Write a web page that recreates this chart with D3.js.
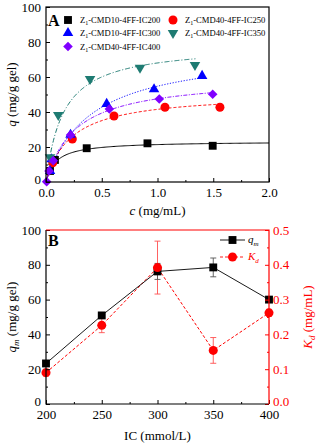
<!DOCTYPE html>
<html><head><meta charset="utf-8">
<script src="https://cdn.jsdelivr.net/npm/d3@7"></script>
<style>
body{margin:0;background:#fff}
text{font-family:"Liberation Serif","Times New Roman",serif}
</style></head>
<body><svg width="320" height="445"></svg>
<script>
// panel A: adsorption isotherms
const seriesKeys = ["IC200", "IC250", "IC300", "IC350", "IC400"];
const seriesLabels = ["CMD10-4FF-IC200", "CMD40-4FF-IC250", "CMD10-4FF-IC300", "CMD40-4FF-IC350", "CMD40-4FF-IC400"];
const cIC200 = [0.036, 0.08, 0.365, 0.91, 1.495];
const qIC200 = [6.3, 12.6, 19.3, 22.1, 20.7];
const cIC250 = [0.06, 0.236, 0.61, 1.067, 1.56];
const qIC250 = [11, 24.6, 37.7, 42.7, 42.7];
const cIC300 = [0.036, 0.05, 0.22, 0.544, 0.969, 1.40];
const qIC300 = [6.3, 13, 27, 44.6, 53, 60.6];
const cIC350 = [0.036, 0.11, 0.395, 0.843, 1.336];
const qIC350 = [14.1, 38.3, 58.9, 65.3, 66.9];
const cIC400 = [0.006, 0.027, 0.065, 0.22, 0.568, 1.016, 1.495];
const qIC400 = [0.2, 6.3, 12.2, 26.9, 41.7, 47.4, 50.1];
const curveEnd = [2.0, 1.56, 1.40, 1.34, 1.495];
const cSeries = [cIC200, cIC250, cIC300, cIC350, cIC400];
const qSeries = [qIC200, qIC250, qIC300, qIC350, qIC400];

// panel B: Langmuir fit parameters
const icLevels = [200, 250, 300, 350, 400];
const qmValues = [23.3, 50.9, 76.2, 78.5, 60];
const qmErr = [1, 1.5, 4.6, 5.4, 1];
const kdValues = [0.09, 0.226, 0.392, 0.154, 0.262];
const kdErr = [0.01, 0.021, 0.076, 0.037, 0.01];

const colors = ["#000000", "#ff0000", "#0000ff", "#1e7b72", "#8000ff"];
const dashes = [null, "3,2", "1.2,1.6", "5,2,1,2", "4,1.5,1,1.5"];

const svg = d3.select("svg");
const left = 46, right = 269;

function marker(g, kind, color, x, y) {
  let d, r = 0;
  if (kind === 0) d = d3.symbol(d3.symbolSquare, 62)();
  else if (kind === 1) d = d3.symbol(d3.symbolCircle, 64)();
  else if (kind === 2) d = d3.symbol(d3.symbolTriangle, 48)();
  else if (kind === 3) { d = d3.symbol(d3.symbolTriangle, 48)(); r = 180; }
  else { d = d3.symbol(d3.symbolSquare, 46)(); r = 45; }
  return g.append("path").attr("d", d).attr("fill", color)
    .attr("transform", `translate(${x},${y}) rotate(${r})`);
}

function inwardAxes(g, xs, ys, xTicks, xMinor, yTicks, yMinor, xFmt, yFmt, h) {
  g.append("g").attr("transform", `translate(0,${h})`)
    .call(d3.axisBottom(xs).tickValues(xMinor).tickSize(-2).tickFormat("").tickSizeOuter(0));
  g.append("g").attr("transform", `translate(0,${h})`)
    .call(d3.axisBottom(xs).tickValues(xTicks).tickSize(-4).tickPadding(6).tickFormat(xFmt).tickSizeOuter(0));
  g.append("g").attr("transform", `translate(${left},0)`)
    .call(d3.axisLeft(ys).tickValues(yMinor).tickSize(-2).tickFormat("").tickSizeOuter(0));
  const ya = g.append("g").attr("transform", `translate(${left},0)`)
    .call(d3.axisLeft(ys).tickValues(yTicks).tickSize(-4).tickPadding(5).tickFormat(yFmt).tickSizeOuter(0));
  ya.selectAll(".tick text").filter(d => d === 0).attr("dy", "0.1em");
  g.selectAll(".tick text").attr("font-size", 13).attr("font-family", "Liberation Serif").attr("fill", "#000");
  g.selectAll(".domain").remove();
}

// ---------- panel A ----------
const topA = 7, botA = 182;
const xA = d3.scaleLinear().domain([0, 2]).range([left, right]);
const yA = d3.scaleLinear().domain([0, 100]).range([botA, topA]);
const gA = svg.append("g");

seriesKeys.forEach((k, i) => {
  // Langmuir fit with parameters from panel B
  const pts = d3.range(0, 201).map(j => {
    const c = curveEnd[i] * j / 200;
    return [c, qmValues[i] * c / (kdValues[i] + c)];
  });
  gA.append("path").datum(pts)
    .attr("fill", "none").attr("stroke", colors[i]).attr("stroke-width", 1)
    .attr("stroke-dasharray", dashes[i])
    .attr("d", d3.line().x(d => xA(d[0])).y(d => yA(d[1])));
});
seriesKeys.forEach((k, i) => {
  cSeries[i].forEach((c, j) => marker(gA, i, colors[i], xA(c), yA(qSeries[i][j])));
});

inwardAxes(gA, xA, yA, d3.range(0, 2.01, 0.5), d3.range(0.25, 2, 0.5),
  d3.range(0, 101, 20), d3.range(10, 100, 20), d3.format(".1f"), d3.format("d"), botA);
gA.append("rect").attr("x", left).attr("y", topA).attr("width", right - left).attr("height", botA - topA)
  .attr("fill", "none").attr("stroke", "#000").attr("stroke-width", 1.2);

gA.append("text").attr("x", 48).attr("y", 26).attr("font-family", "Liberation Sans")
  .attr("font-weight", "bold").attr("font-size", 16).text("A");

const legPos = [[68, 20], [173, 20], [68, 33], [173, 33], [68, 46.5]];
seriesKeys.forEach((k, i) => {
  marker(gA, i, colors[i], legPos[i][0], legPos[i][1]);
  const t = gA.append("text").attr("x", legPos[i][0] + 12).attr("y", legPos[i][1] + 3)
    .attr("font-size", 8.6).attr("fill", "#000");
  t.append("tspan").text("Z");
  t.append("tspan").attr("font-size", 6).attr("dy", 2).text("1");
  t.append("tspan").attr("dy", -2).text("-" + seriesLabels[i]);
});

const tA = gA.append("text").attr("x", (left + right) / 2).attr("y", 215)
  .attr("text-anchor", "middle").attr("font-size", 13);
tA.append("tspan").attr("font-style", "italic").text("c");
tA.append("tspan").text(" (mg/mL)");
const tAy = gA.append("text").attr("transform", `translate(16,${(topA + botA) / 2}) rotate(-90)`)
  .attr("text-anchor", "middle").attr("font-size", 13);
tAy.append("tspan").attr("font-style", "italic").text("q");
tAy.append("tspan").text(" (mg/g gel)");

// ---------- panel B ----------
const topB = 230, botB = 404;
const xB = d3.scaleLinear().domain([200, 400]).range([left, right]);
const yB = d3.scaleLinear().domain([0, 100]).range([botB, topB]);
const yK = d3.scaleLinear().domain([0, 0.5]).range([botB, topB]);
const gB = svg.append("g");

// K_d series (red, dashed)
gB.append("path").datum(icLevels)
  .attr("fill", "none").attr("stroke", "#ff0000").attr("stroke-width", 1).attr("stroke-dasharray", "3,2")
  .attr("d", d3.line().x(d => xB(d)).y((d, i) => yK(kdValues[i])));
icLevels.forEach((ic, i) => {
  const x = xB(ic), y1 = yK(kdValues[i] - kdErr[i]), y2 = yK(kdValues[i] + kdErr[i]);
  gB.append("path").attr("d", `M${x},${y1}V${y2}M${x - 3},${y1}H${x + 3}M${x - 3},${y2}H${x + 3}`)
    .attr("stroke", "#ff5050").attr("stroke-width", 0.9).attr("fill", "none");
});

// q_m series (black, solid)
gB.append("path").datum(icLevels)
  .attr("fill", "none").attr("stroke", "#000").attr("stroke-width", 0.9)
  .attr("d", d3.line().x(d => xB(d)).y((d, i) => yB(qmValues[i])));
icLevels.forEach((ic, i) => {
  const x = xB(ic), y1 = yB(qmValues[i] - qmErr[i]), y2 = yB(qmValues[i] + qmErr[i]);
  gB.append("path").attr("d", `M${x},${y1}V${y2}M${x - 3},${y1}H${x + 3}M${x - 3},${y2}H${x + 3}`)
    .attr("stroke", "#555").attr("stroke-width", 0.9).attr("fill", "none");
});
icLevels.forEach((ic, i) => marker(gB, 0, "#000", xB(ic), yB(qmValues[i])));
icLevels.forEach((ic, i) => marker(gB, 1, "#ff0000", xB(ic), yK(kdValues[i])));

inwardAxes(gB, xB, yB, d3.range(200, 401, 50), d3.range(225, 400, 50),
  d3.range(0, 101, 20), d3.range(10, 100, 20), d3.format("d"), d3.format("d"), botB);

const gR = gB.append("g").attr("transform", `translate(${right},0)`);
gR.call(d3.axisRight(yK).tickValues(d3.range(0.05, 0.5, 0.1)).tickSize(-2).tickFormat("").tickSizeOuter(0));
gR.append("g").call(d3.axisRight(yK).tickValues(d3.range(0, 0.51, 0.1)).tickSize(-4).tickPadding(4)
  .tickFormat(d3.format(".1f")).tickSizeOuter(0));
gR.selectAll(".domain").remove();
gR.selectAll(".tick line").attr("stroke", "#ff0000");
gR.selectAll(".tick text").attr("fill", "#ff0000").attr("font-size", 13).attr("font-family", "Liberation Serif");
gR.selectAll(".tick text").filter(d => d === 0).attr("dy", "0.1em");

gB.append("path").attr("d", `M${left},${topB}V${botB}H${right}`)
  .attr("stroke", "#000").attr("stroke-width", 1.2).attr("fill", "none");
gB.append("path").attr("d", `M${left},${topB}H${right}V${botB}`)
  .attr("stroke", "#ff0000").attr("stroke-width", 1.2).attr("fill", "none");

gB.append("text").attr("x", 48).attr("y", 246).attr("font-family", "Liberation Sans")
  .attr("font-weight", "bold").attr("font-size", 16).text("B");

// legend B
[["q", "m", "#000", null, 0], ["K", "d", "#ff0000", "3,2", 1]].forEach((d, i) => {
  const y = 240 + i * 17;
  gB.append("line").attr("x1", 220).attr("x2", 245).attr("y1", y).attr("y2", y)
    .attr("stroke", d[2]).attr("stroke-width", 0.9).attr("stroke-dasharray", d[3]);
  marker(gB, d[4], d[2], 232.5, y);
  const t = gB.append("text").attr("x", 248).attr("y", y + 3).attr("font-size", 11).attr("fill", d[2]);
  t.append("tspan").attr("font-style", "italic").text(d[0]);
  t.append("tspan").attr("font-style", "italic").attr("font-size", 7).attr("dy", 3).text(d[1]);
});

gB.append("text").attr("x", (left + right) / 2).attr("y", 440)
  .attr("text-anchor", "middle").attr("font-size", 13).text("IC (mmol/L)");
const tBy = gB.append("text").attr("transform", `translate(16,${(topB + botB) / 2}) rotate(-90)`)
  .attr("text-anchor", "middle").attr("font-size", 13);
tBy.append("tspan").attr("font-style", "italic").text("q");
tBy.append("tspan").attr("font-style", "italic").attr("font-size", 9).attr("dy", 3).text("m");
tBy.append("tspan").attr("dy", -3).text(" (mg/g gel)");
const tBr = gB.append("text").attr("transform", `translate(312,${(topB + botB) / 2}) rotate(-90)`)
  .attr("text-anchor", "middle").attr("font-size", 13).attr("fill", "#ff0000");
tBr.append("tspan").attr("font-style", "italic").text("K");
tBr.append("tspan").attr("font-style", "italic").attr("font-size", 9).attr("dy", 3).text("d");
tBr.append("tspan").attr("dy", -3).text(" (mg/mL)");
</script>
</body></html>
